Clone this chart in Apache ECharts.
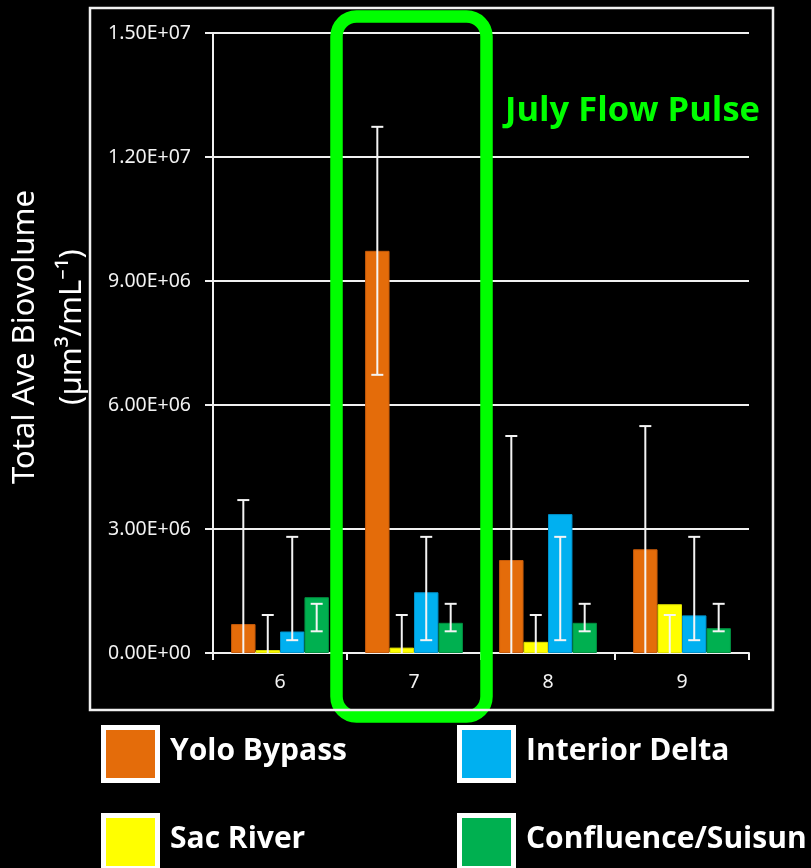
<!DOCTYPE html>
<html>
<head>
<meta charset="utf-8">
<script src="https://cdn.jsdelivr.net/npm/echarts@6/dist/echarts.min.js"></script>
<style>
  html, body { margin: 0; padding: 0; background: #000; }
  #chart { width: 811px; height: 868px; }
</style>
</head>
<body>
<div id="chart"></div>
<script>
// Months sampled
const months = ['6', '7', '8', '9'];

// Mean total biovolume per region (µm³/mL)
const yoloBypass = [0.70e6, 9.73e6, 2.25e6, 2.51e6];
const sacRiver = [0.07e6, 0.13e6, 0.27e6, 1.18e6];
const interiorDelta = [0.52e6, 1.47e6, 3.36e6, 0.91e6];
const confluenceSuisun = [1.35e6, 0.73e6, 0.73e6, 0.60e6];

// Error bar extents (lower / upper); 0 means the bar runs down to the axis
const yoloLow = [0, 6.73e6, 0, 0];
const yoloHigh = [3.70e6, 12.73e6, 5.25e6, 5.49e6];
const sacLow = [0, 0, 0, 0];
const sacHigh = [0.92e6, 0.92e6, 0.92e6, 0.92e6];
const interiorLow = [0.31e6, 0.31e6, 0.31e6, 0.31e6];
const interiorHigh = [2.81e6, 2.81e6, 2.81e6, 2.81e6];
const confluenceLow = [0.525e6, 0.525e6, 0.525e6, 0.525e6];
const confluenceHigh = [1.19e6, 1.19e6, 1.19e6, 1.19e6];

// Y axis tick labels
const yTickLabels = ['0.00E+00', '3.00E+06', '6.00E+06', '9.00E+06', '1.20E+07', '1.50E+07'];

const regionNames = ['Yolo Bypass', 'Sac River', 'Interior Delta', 'Confluence/Suisun'];
const regionColors = ['#E46C0A', '#FFFF00', '#00B0F0', '#00B050'];
const regionBorders = ['#C55A0A', '#E0E000', '#0090C8', '#009040'];
const regionValues = [yoloBypass, sacRiver, interiorDelta, confluenceSuisun];
const regionLows = [yoloLow, sacLow, interiorLow, confluenceLow];
const regionHighs = [yoloHigh, sacHigh, interiorHigh, confluenceHigh];

const CATEGORY_GAP = 0.27;

const chart = echarts.init(document.getElementById('chart'), null, { renderer: 'canvas' });

const barSeries = regionNames.map((name, i) => ({
  name: name,
  type: 'bar',
  data: regionValues[i],
  barGap: '0%',
  barCategoryGap: (CATEGORY_GAP * 100) + '%',
  itemStyle: { color: regionColors[i], borderColor: regionBorders[i], borderWidth: 1 },
  z: 2
}));

function errorRenderer(slot) {
  return function (params, api) {
    const idx = api.value(0);
    const low = api.value(1);
    const high = api.value(2);
    const bandW = api.size([1, 0])[0];
    const barW = bandW * (1 - CATEGORY_GAP) / 4;
    const base = api.coord([idx, Math.max(low, 0)]);
    const top = api.coord([idx, high]);
    const cx = base[0] + (slot - 1.5) * barW;
    const capHalf = 6;
    const style = { stroke: '#f4f4f4', lineWidth: 2 };
    const children = [
      { type: 'line', shape: { x1: cx, y1: base[1], x2: cx, y2: top[1] }, style: style },
      { type: 'line', shape: { x1: cx - capHalf, y1: top[1], x2: cx + capHalf, y2: top[1] }, style: style }
    ];
    if (low > 0) {
      children.push({ type: 'line', shape: { x1: cx - capHalf, y1: base[1], x2: cx + capHalf, y2: base[1] }, style: style });
    }
    return { type: 'group', children: children };
  };
}

const errorSeries = regionNames.map((name, i) => ({
  name: name + ' error',
  type: 'custom',
  renderItem: errorRenderer(i),
  data: months.map((m, j) => [j, regionLows[i][j], regionHighs[i][j]]),
  encode: { x: 0, y: [1, 2] },
  z: 5,
  silent: true
}));

// Legend drawn as 2x2 block of framed swatches
const legendSlots = [
  { x: 101, y: 725 }, // Yolo Bypass
  { x: 101, y: 813 }, // Sac River
  { x: 457, y: 725 }, // Interior Delta
  { x: 457, y: 813 }  // Confluence/Suisun
];
const legendGraphics = [];
regionNames.forEach((name, i) => {
  const s = legendSlots[i];
  legendGraphics.push({
    type: 'rect',
    shape: { x: s.x + 2.5, y: s.y + 2.5, width: 54, height: 53 },
    style: { fill: regionColors[i], stroke: '#ffffff', lineWidth: 5 },
    z: 10
  });
  legendGraphics.push({
    type: 'text',
    x: s.x + 69,
    y: s.y + 26,
    style: {
      text: name,
      fill: '#ffffff',
      font: 'bold 30px "Open Sans"',
      textAlign: 'left',
      textVerticalAlign: 'middle'
    },
    z: 10
  });
});

const option = {
  backgroundColor: '#000000',
  animation: false,
  grid: { left: 213, top: 33, width: 536, height: 620, containLabel: false },
  xAxis: {
    type: 'category',
    data: months,
    boundaryGap: true,
    axisLine: { show: true, lineStyle: { color: '#f0f0f0', width: 2 } },
    axisTick: { show: true, length: 7, lineStyle: { color: '#f0f0f0', width: 2 } },
    axisLabel: { color: '#f2f2f2', fontFamily: 'Noto Sans', fontSize: 19.5, lineHeight: 20, margin: 19 },
    splitLine: { show: false }
  },
  yAxis: {
    type: 'value',
    min: 0,
    max: 1.5e7,
    interval: 3e6,
    axisLine: { show: true, lineStyle: { color: '#f0f0f0', width: 2 } },
    axisTick: { show: true, length: 8, lineStyle: { color: '#f0f0f0', width: 2 } },
    axisLabel: {
      color: '#f2f2f2', fontFamily: 'Noto Sans', fontSize: 19.5, margin: 22,
      formatter: (val, idx) => yTickLabels[idx]
    },
    splitLine: { show: true, lineStyle: { color: '#f0f0f0', width: 2 } }
  },
  series: barSeries.concat(errorSeries),
  graphic: [
    // Y axis title, two lines
    {
      type: 'text',
      x: 25, y: 337,
      rotation: Math.PI / 2,
      style: { text: 'Total Ave Biovolume', fill: '#ffffff', font: '31px "Noto Sans"', textAlign: 'center', textVerticalAlign: 'middle' },
      z: 10
    },
    {
      type: 'text',
      x: 72, y: 327,
      rotation: Math.PI / 2,
      style: { text: '(µm³/mL⁻¹)', fill: '#ffffff', font: '31px "Noto Sans"', textAlign: 'center', textVerticalAlign: 'middle' },
      z: 10
    },
    // Highlight around July
    {
      type: 'rect',
      shape: { x: 336.5, y: 16.5, width: 150, height: 700, r: 20 },
      style: { fill: 'none', stroke: '#00FF00', lineWidth: 12.5 },
      z: 20
    },
    {
      type: 'text',
      x: 505, y: 111,
      style: { text: 'July Flow Pulse', fill: '#00FF00', font: 'bold 34.5px "Open Sans"', textAlign: 'left', textVerticalAlign: 'middle' },
      z: 20
    },
    // Chart frame
    {
      type: 'rect',
      shape: { x: 90, y: 8, width: 683, height: 702 },
      style: { fill: 'none', stroke: '#f0f0f0', lineWidth: 2.5 },
      z: 30
    }
  ].concat(legendGraphics)
};

chart.setOption(option);
</script>
</body>
</html>
